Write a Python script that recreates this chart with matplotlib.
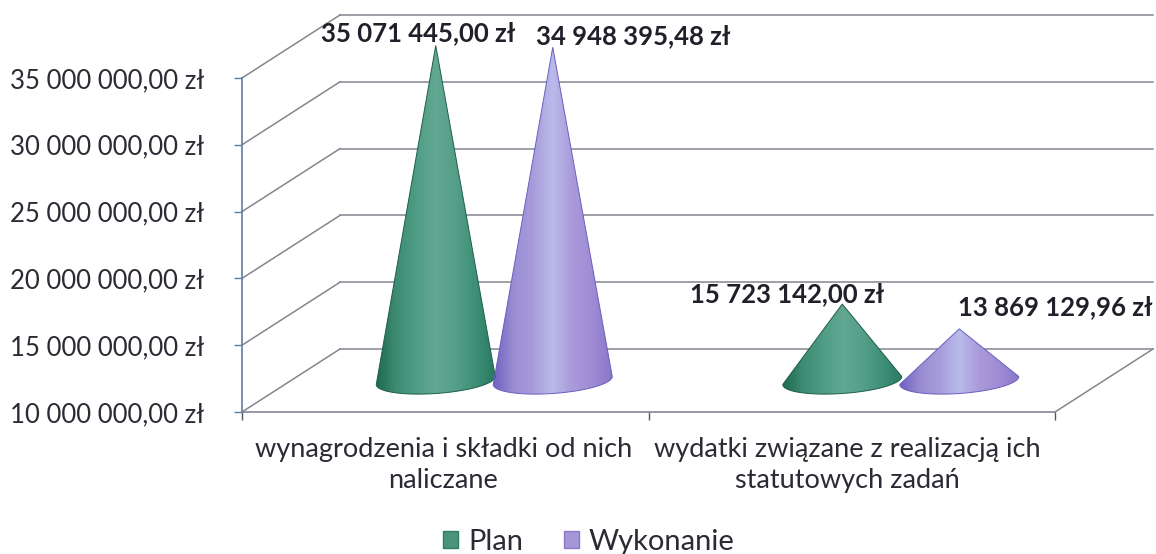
import numpy as np
import matplotlib
matplotlib.use("Agg")
import matplotlib.pyplot as plt
from matplotlib.colors import LinearSegmentedColormap
from matplotlib.patches import Patch, Polygon

plt.rcParams['font.family'] = ['Lato', 'DejaVu Sans']

categories = ["wynagrodzenia i składki od nich\nnaliczane",
              "wydatki związane z realizacją ich\nstatutowych zadań"]
series_names = ["Plan", "Wykonanie"]
plan = [35071445.00, 15723142.00]
wykonanie = [34948395.48, 13869129.96]
plan_labels = ["35 071 445,00 zł", "15 723 142,00 zł"]
wykonanie_labels = ["34 948 395,48 zł", "13 869 129,96 zł"]
y_ticks = [10000000, 15000000, 20000000, 25000000, 30000000, 35000000]
y_tick_labels = ["10 000 000,00 zł", "15 000 000,00 zł", "20 000 000,00 zł",
                 "25 000 000,00 zł", "30 000 000,00 zł", "35 000 000,00 zł"]

W, H = 1156, 554
fig = plt.figure(figsize=(W / 100, H / 100), dpi=100)
ax = fig.add_axes([242 / W, (H - 412) / H, 813 / W, 334 / H])
ax.set_xlim(0, 2)
ax.set_ylim(10000000, 35000000)

# conversion pixels -> data for the fake 3D depth
px_x = 2 / 813
px_y = 25000000 / 334
depth_x = 98 * px_x
depth_y = 63 * px_y

grid_color = "#85858f"
for v in y_ticks:
    ax.plot([depth_x, 2 + depth_x], [v + depth_y] * 2, color=grid_color, lw=1.1, clip_on=False, zorder=1)
    ax.plot([0, depth_x], [v, v + depth_y], color=grid_color, lw=1.1, clip_on=False, zorder=1)
ax.plot([2, 2 + depth_x], [10000000, 10000000 + depth_y], color=grid_color, lw=1.1, clip_on=False, zorder=1)

green = LinearSegmentedColormap.from_list("g", ["#1f6a50", "#3f8c74", "#4f9c84", "#62a893", "#559f89", "#3f9078", "#2a7a62"])
purple = LinearSegmentedColormap.from_list("p", ["#6f62c0", "#9a8cd2", "#a79cdb", "#b9bbea", "#aa9ada", "#a08cd4", "#8a78c8"])


def draw_cone(center, value, label, cmap, edge, offset):
    # centre of the cone on the middle of the floor depth
    cx = center + depth_x / 2
    cy = 10000000 + depth_y / 2
    half_w = 59.5 * px_x
    half_h = 13 * px_y
    tilt = 4 * px_y
    t = np.linspace(np.pi, 2 * np.pi, 60)
    xs = cx + half_w * np.cos(t)
    ys = cy + half_h * np.sin(t) + tilt * np.cos(t)
    outline = np.column_stack([np.r_[cx, xs], np.r_[value + depth_y / 2, ys]])
    cone = Polygon(outline, closed=True, facecolor="none", edgecolor=edge, lw=0.7, clip_on=False, zorder=4)
    ax.add_patch(cone)
    img = ax.imshow(np.linspace(0, 1, 128).reshape(1, -1), cmap=cmap, aspect="auto",
                    extent=[cx - half_w, cx + half_w, cy - half_h - tilt, value + depth_y / 2],
                    zorder=3, interpolation="bilinear")
    # the image must also show above the axes box
    img.set_clip_box(fig.bbox)
    img.set_clip_path(cone)
    ax.annotate(label, (cx, value + depth_y / 2), xytext=offset, textcoords="offset pixels",
                ha="center", va="center", fontsize=18.5, fontweight="bold", color="#20202a",
                annotation_clip=False, zorder=6)


slot = [0.5, 1.5]
sep = 58.5 * px_x
plan_offsets = [(-18, 12), (-55, 10)]
wykonanie_offsets = [(80, 11), (96, 22)]
for i in range(2):
    draw_cone(slot[i] - sep, plan[i], plan_labels[i], green, "#1d5f49", plan_offsets[i])
    draw_cone(slot[i] + sep, wykonanie[i], wykonanie_labels[i], purple, "#6a5fc0", wykonanie_offsets[i])

ax.set_xlim(0, 2)
ax.set_ylim(10000000, 35000000)

for s in ["top", "right"]:
    ax.spines[s].set_visible(False)
ax.spines["left"].set_color("#5f7f9f")
ax.spines["left"].set_linewidth(1.2)
ax.spines["bottom"].set_color(grid_color)
ax.spines["bottom"].set_linewidth(1.2)

ax.set_yticks(y_ticks)
ax.set_yticklabels(y_tick_labels, fontsize=18.5, color="#2b2b35")
ax.tick_params(axis="y", length=6, width=1.0, color="#5f7f9f", pad=21)

ax.set_xticks([0, 1, 2])
ax.set_xticklabels([])
ax.tick_params(axis="x", which="major", length=6, width=1.0, color="#55555f")
ax.set_xticks([0.495, 1.49], minor=True)
ax.set_xticklabels(categories, minor=True, fontsize=19.5, color="#2b2b35", linespacing=1.3)
ax.tick_params(axis="x", which="minor", length=0, pad=18)

handles = [Patch(facecolor="#4a947c", edgecolor="#2f7d66", label=series_names[0]),
           Patch(facecolor="#a596d6", edgecolor="#8a78c8", label=series_names[1])]
leg = fig.legend(handles=handles, loc="center", bbox_to_anchor=(589 / W, (H - 542) / H), ncol=2,
                 frameon=False, fontsize=21, handlelength=0.5, handleheight=0.5,
                 handletextpad=0.35, columnspacing=1.4, labelcolor="#2b2b35")

fig.savefig("out.png", dpi=100)
